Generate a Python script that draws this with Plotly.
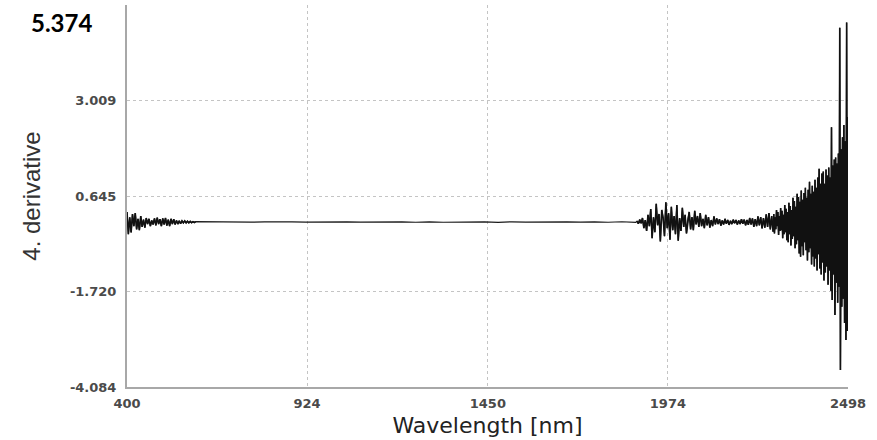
import numpy as np
import plotly.graph_objects as go

# ---- data ----
# segment A: 400..600 nm, step 4
seg_a_vals = [0.25, -0.30, 0.12, -0.26, 0.20, -0.10, 0.22, -0.18, 0.08, -0.20,
              0.15, -0.12, 0.06, -0.14, 0.10, -0.05, 0.08, -0.10, 0.04, -0.06,
              0.09, -0.08, 0.11, -0.05, 0.07, -0.10, 0.09, -0.06, 0.10, -0.09,
              0.06, -0.10, 0.08, -0.05, 0.07, -0.06, 0.04, -0.05, 0.03, -0.04,
              0.03, -0.02, 0.03, -0.02, 0.02, -0.02, 0.015, -0.015, 0.01, -0.01,
              0.01]
seg_a_range = (400, 600)

# segment B: 640..1880 nm, step 40 (nearly flat)
seg_b_vals = [0.004, -0.004, 0.005, -0.004, 0.004, -0.005, 0.004, -0.004, 0.003, -0.004,
              0.004, -0.003, 0.004, -0.004, 0.005, -0.005, 0.006, -0.005, 0.004, -0.004,
              0.005, -0.006, 0.005, -0.004, 0.004, -0.005, 0.004, -0.004, 0.006, -0.005,
              0.008, -0.008]
seg_b_range = (640, 1880)

# segment C: 1884..2280 nm, step 4
seg_c_vals = [0.02, -0.04, 0.06, -0.03, 0.10, -0.15, 0.05, -0.22, 0.18, -0.10,
              0.32, -0.40, 0.12, -0.25, 0.45, -0.08, 0.20, -0.48, 0.30, 0.10,
              -0.35, 0.49, -0.15, 0.22, -0.44, 0.38, -0.20, 0.15, -0.30, 0.42,
              -0.46, 0.10, -0.22, 0.35, -0.12, 0.18, -0.28, 0.08, 0.25, -0.18,
              0.12, -0.20, 0.28, -0.06, 0.15, -0.12, 0.22, -0.10, 0.08, -0.15,
              0.18, -0.08, 0.12, -0.14, 0.05, -0.10, 0.14, -0.06, 0.09, -0.05,
              0.07, -0.09, 0.04, -0.06, 0.08, -0.04, 0.05, -0.07, 0.03, -0.05,
              0.06, -0.03, 0.05, -0.06, 0.04, -0.05, 0.07, -0.04, 0.06, -0.08,
              0.05, -0.07, 0.10, -0.06, 0.09, -0.12, 0.07, -0.10, 0.14, -0.08,
              0.12, -0.16, 0.10, -0.14, 0.19, -0.12, 0.22, -0.18, 0.15, -0.24]
seg_c_range = (1884, 2280)

# segment D: 2282..2498 nm, step 2
seg_d_vals = [0.20, -0.28, 0.12, -0.18, 0.30, -0.10, 0.25, -0.32, 0.15, -0.22,
              0.35, -0.20, 0.28, -0.40, 0.18, -0.30, 0.42, -0.25, 0.33, -0.45,
              0.25, -0.50, 0.48, -0.30, 0.40, -0.58, 0.30, -0.42, 0.60, -0.35,
              0.52, -0.65, 0.38, -0.55, 0.70, -0.45, 0.62, -0.78, 0.50, -0.86,
              0.78, -0.60, 0.55, -0.82, 0.72, -0.50, 0.85, -0.70, 0.60, -0.95,
              0.80, -0.75, 1.00, -0.65, 0.70, -1.05, 0.90, -0.85, 0.75, -1.10,
              1.05, -0.90, 0.85, -1.20, 1.10, -0.80, 1.32, -1.15, 0.95, -1.30,
              1.20, -1.00, 1.25, -1.45, 0.95, -1.25, 1.30, -1.10, 1.15, -1.55,
              1.35, -1.20, 1.10, -1.70, 2.35, -1.93, 1.40, -1.30, 1.55, -2.30,
              1.60, -1.50, 1.45, -2.00, 1.70, -1.60, 4.81, -3.66, 1.80, -2.10,
              2.10, -1.90, 2.40, -2.50, 2.00, -2.92, 4.94, -2.70, 2.60]
seg_d_range = (2282, 2498)

x_ticks = [400, 924, 1450, 1974, 2498]
y_ticks = [-4.084, -1.720, 0.645, 3.009, 5.374]
y_tick_labels = ["-4.084", "-1.720", "0.645", "3.009", ""]
y_top_label = "5.374"
x_title = "Wavelength [nm]"
y_title = "4. derivative"

segments = [(seg_a_vals, seg_a_range), (seg_b_vals, seg_b_range),
            (seg_c_vals, seg_c_range), (seg_d_vals, seg_d_range)]
xs, ys = [], []
xn, yn = [], []  # noisy segments only, for a heavier overlay stroke
for i, (vals, (a, b)) in enumerate(segments):
    sx = np.linspace(a, b, len(vals)).tolist()
    xs.extend(sx)
    ys.extend(vals)
    if i != 1:
        xn.extend(sx + [None])
        yn.extend(list(vals) + [None])

fig = go.Figure()
fig.add_trace(go.Scatter(x=xs, y=ys, mode="lines",
                         line=dict(color="#1a1a1a", width=1.2),
                         hoverinfo="skip", showlegend=False))
fig.add_trace(go.Scatter(x=xn, y=yn, mode="lines", connectgaps=False,
                         line=dict(color="#111111", width=1.6),
                         hoverinfo="skip", showlegend=False))

grid_col = "#c4c4c4"
tick_font = dict(family="DejaVu Sans", size=13, color="#4a4a4a", weight="bold")

fig.update_layout(
    width=877, height=440,
    margin=dict(l=127, r=29, t=5, b=53),
    paper_bgcolor="white", plot_bgcolor="white",
    showlegend=False,
    xaxis=dict(range=[400, 2498], tickmode="array", tickvals=x_ticks,
               ticktext=[str(v) for v in x_ticks],
               showgrid=True, gridcolor=grid_col, griddash="dot", gridwidth=1,
               showline=True, linecolor="#a8a8a8", linewidth=2,
               ticks="", zeroline=False, tickfont=tick_font,
               ticklabelstandoff=3,
               title=dict(text=x_title, font=dict(family="DejaVu Sans", size=22, color="#222222"),
                          standoff=8)),
    yaxis=dict(range=[-4.084, 5.374], tickmode="array", tickvals=y_ticks,
               ticktext=y_tick_labels,
               showgrid=True, gridcolor=grid_col, griddash="dot", gridwidth=1,
               showline=True, linecolor="#a8a8a8", linewidth=2,
               ticks="", zeroline=False, tickfont=tick_font,
               ticklabelstandoff=6,
               title=dict(text=y_title, font=dict(family="Liberation Sans", size=24, color="#333333"),
                          standoff=22)),
)

fig.add_annotation(text="<b>" + y_top_label + "</b>", xref="paper", yref="paper",
                   x=-0.136, y=1.0, xanchor="left", yanchor="top", showarrow=False,
                   font=dict(family="Lato", size=24, color="black"), yshift=-1)

fig.write_html("out.html")
